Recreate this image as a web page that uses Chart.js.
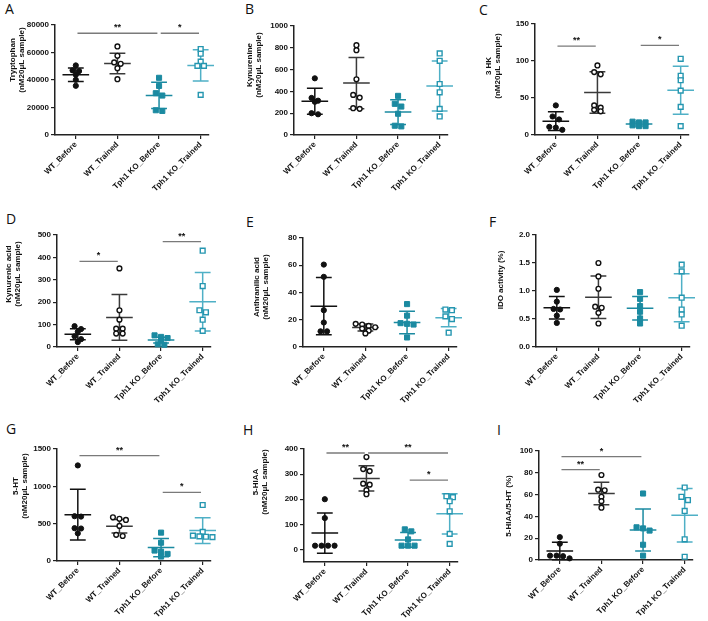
<!DOCTYPE html>
<html><head><meta charset="utf-8">
<script src="https://cdn.jsdelivr.net/npm/chart.js@4.4.1/dist/chart.umd.min.js"></script>
<style>
body{margin:0;background:#fff;width:708px;height:621px;position:relative;overflow:hidden}
canvas{position:absolute}
.lbl{position:absolute;font-family:"Open Sans",sans-serif;font-size:14px;line-height:1;color:#111}
</style></head><body>
<script>
const categories = ['WT_Before', 'WT_Trained', 'Tph1 KO_Before', 'Tph1 KO_Trained'];

// A — Tryptophan
const tryptophanValues = [[50600, 47000, 46500, 43800, 40100, 35800], [64400, 57600, 52800, 51800, 48600, 40600], [41600, 35700, 30400, 28700, 18000, 17500], [62500, 59100, 53300, 50300, 50300, 29200]];
const tryptophanMean = [43800, 52000, 28800, 50600];
const tryptophanSD = [4900, 7500, 9600, 11400];
const tryptophanTicks = [0, 20000, 40000, 60000, 80000];
const tryptophanSig = [[0, 2, 74000, '**'], [2, 3, 74000, '*']];
const tryptophanTitle = ['Tryptophan', '(nM20μL sample)'];

// B — Kynurenine
const kynurenineValues = [[520, 340, 315, 305, 200, 190], [824, 778, 511, 368, 343, 246, 240], [359, 286, 261, 195, 85, 79], [748, 681, 468, 392, 240, 170]];
const kynurenineMean = [310, 476, 210, 450];
const kynurenineSD = [119, 236, 113, 229];
const kynurenineTicks = [0, 200, 400, 600, 800, 1000];
const kynurenineSig = [];
const kynurenineTitle = ['Kynurenine', '(nM20μL sample)'];

// C — 3 HK
const hkValues = [[40, 25, 21, 11, 10, 7], [94, 85, 82, 40, 37, 34, 32], [18, 17, 17, 13, 12, 12], [103, 80, 74, 60, 38, 12]];
const hkMean = [18.7, 57.5, 14.8, 60.5];
const hkSD = [12.6, 28, 2.6, 32.5];
const hkTicks = [0, 50, 100, 150];
const hkSig = [[0, 1, 120, '**'], [2, 3, 121, '*']];
const hkTitle = ['3 HK', '(nM20μL sample)'];

// D — Kynurenic acid
const kynaValues = [[93, 80, 68, 48, 35, 22], [351, 164, 122, 82, 82, 60, 60], [52, 45, 40, 30, 12, 10], [430, 272, 164, 155, 122, 72]];
const kynaMean = [57, 132, 31, 202];
const kynaSD = [25, 102, 13, 131];
const kynaTicks = [0, 100, 200, 300, 400, 500];
const kynaSig = [[0, 1, 382, '*'], [2, 3, 470, '**']];
const kynaTitle = ['Kynurenic acid', '(nM20μL sample)'];

// E — Anthranilic acid
const anthValues = [[60.5, 51.5, 27, 18, 11.5, 11.5], [17, 16.5, 15.5, 14.5, 13.5, 12, 10], [31.5, 23, 17.5, 17, 16.5, 7], [27.5, 27, 22.5, 20.5, 10.5]];
const anthMean = [30, 14.3, 18, 21.5];
const anthSD = [21, 2.6, 8.2, 6.7];
const anthTicks = [0, 20, 40, 60, 80];
const anthSig = [];
const anthTitle = ['Anthranilic acid', '(nM20μL sample)'];

// F — IDO activity
const idoValues = [[1.02, 0.81, 0.68, 0.67, 0.56, 0.43], [1.50, 1.26, 1.04, 0.72, 0.70, 0.61, 0.42], [0.98, 0.86, 0.73, 0.63, 0.51, 0.42], [1.47, 1.35, 0.88, 0.67, 0.58, 0.38]];
const idoMean = [0.70, 0.89, 0.69, 0.88];
const idoSD = [0.20, 0.38, 0.21, 0.43];
const idoTicks = [0, 0.5, 1.0, 1.5, 2.0];
const idoSig = [];
const idoTitle = ['IDO activity (%)'];

// G — 5-HT
const htValues = [[1280, 600, 595, 440, 435, 370], [585, 565, 550, 470, 350, 335], [380, 245, 140, 125, 95, 60], [750, 390, 340, 330, 325, 320]];
const htMean = [620, 465, 180, 408];
const htSD = [340, 90, 123, 172];
const htTicks = [0, 500, 1000, 1500];
const htSig = [[0, 2, 1411, '**'], [2, 3, 920, '*']];
const htTitle = ['5-HT', '(nM20μL sample)'];

// H — 5-HIAA
const hiaaValues = [[200, 125, 15, 15, 15, 15], [368, 320, 312, 262, 258, 236, 220], [80, 72, 40, 15, 15, 15], [212, 208, 192, 152, 62, 22]];
const hiaaMean = [65, 283, 38, 142];
const hiaaSD = [80, 50, 29, 80];
const hiaaTicks = [0, 100, 200, 300, 400];
const hiaaSig = [[0, 1, 384, '**'], [1, 3, 384, '**'], [2, 3, 276, '*']];
const hiaaTitle = ['5-HIAA', '(nM20μL sample)'];

// I — 5-HIAA/5-HT
const ratioValues = [[21, 15, 4, 4, 3.5, 1.5], [78, 64.5, 64, 58, 54, 48], [61, 30, 29, 27, 14, 4], [66.5, 58, 55, 45, 19, 3]];
const ratioMean = [8.2, 61, 27.5, 41];
const ratioSD = [8, 10.4, 19.2, 24.6];
const ratioTicks = [0, 20, 40, 60, 80, 100];
const ratioSig = [[0, 2, 94.8, '*'], [0, 1, 83, '**']];
const ratioTitle = ['5-HIAA/5-HT (%)'];

const FONT = '"Liberation Sans", Arial, sans-serif';
const groupStyle = [
  {ps: 'circle', r: 2.6, bg: '#111', bd: '#111', bw: 1, line: '#111'},
  {ps: 'circle', r: 2.4, bg: '#fff', bd: '#111', bw: 1.4, line: '#3a3a3a'},
  {ps: 'rect', r: 3.6, bg: '#1b8aa1', bd: '#1b8aa1', bw: 1, line: '#1b8aa1'},
  {ps: 'rect', r: 3.4, bg: '#fff', bd: '#2596b0', bw: 1.4, line: '#4fb0c6'}
];

const panels = [
  {letter: 'A', lx: 5, ly: 2, vals: tryptophanValues, mean: tryptophanMean, sd: tryptophanSD, ticks: tryptophanTicks, sig: tryptophanSig, title: tryptophanTitle, min: 0, dec: 0, L: 55, T: 25, B: 135, tx: 13, ty: 60},
  {letter: 'B', lx: 245, ly: 2, vals: kynurenineValues, mean: kynurenineMean, sd: kynurenineSD, ticks: kynurenineTicks, sig: kynurenineSig, title: kynurenineTitle, min: 0, dec: 0, L: 294, T: 26, B: 135, tx: 250, ty: 65},
  {letter: 'C', lx: 479, ly: 3, vals: hkValues, mean: hkMean, sd: hkSD, ticks: hkTicks, sig: hkSig, title: hkTitle, min: 0, dec: 0, L: 535, T: 24, B: 135, tx: 489, ty: 66},
  {letter: 'D', lx: 6, ly: 212, vals: kynaValues, mean: kynaMean, sd: kynaSD, ticks: kynaTicks, sig: kynaSig, title: kynaTitle, min: 0, dec: 0, L: 57, T: 235, B: 347, tx: 9, ty: 274},
  {letter: 'E', lx: 246, ly: 215, vals: anthValues, mean: anthMean, sd: anthSD, ticks: anthTicks, sig: anthSig, title: anthTitle, min: 0, dec: 0, L: 303, T: 238, B: 347, tx: 257, ty: 287},
  {letter: 'F', lx: 489, ly: 215, vals: idoValues, mean: idoMean, sd: idoSD, ticks: idoTicks, sig: idoSig, title: idoTitle, min: 0, dec: 1, L: 536, T: 235, B: 347, tx: 501, ty: 280},
  {letter: 'G', lx: 6, ly: 422, vals: htValues, mean: htMean, sd: htSD, ticks: htTicks, sig: htSig, title: htTitle, min: 0, dec: 0, L: 57, T: 449, B: 561, tx: 16, ty: 486},
  {letter: 'H', lx: 243, ly: 423, vals: hiaaValues, mean: hiaaMean, sd: hiaaSD, ticks: hiaaTicks, sig: hiaaSig, title: hiaaTitle, min: -50, dec: 0, L: 304, T: 449, B: 562, tx: 256, ty: 482},
  {letter: 'I', lx: 497, ly: 423, vals: ratioValues, mean: ratioMean, sd: ratioSD, ticks: ratioTicks, sig: ratioSig, title: ratioTitle, min: 0, dec: 0, L: 539, T: 451, B: 560, tx: 509, ty: 506}
];

const XMIN = -0.5, XMAX = 3.2, PLOT_W = 154, YAX_W = 55, XAX_H = 72, PAD_T = 14, PAD_R = 10;
const CAT_PX = PLOT_W / (XMAX - XMIN);

function swarm(vals, i, pxPerUnit) {
  const sorted = vals.slice().sort((a, b) => b - a);
  const rows = [];
  let cur = null;
  for (const v of sorted) {
    if (cur && (cur[0] - v) * pxPerUnit < 3.5) cur.push(v);
    else { cur = [v]; rows.push(cur); }
  }
  const step = 6.5 / CAT_PX;
  const out = [];
  rows.forEach(r => r.forEach((v, j) => out.push({x: i + (j - (r.length - 1) / 2) * step, y: v})));
  return out;
}

function errData(i, m, s) {
  const w = 0.32, c = 0.19;
  return [
    {x: i - w, y: m}, {x: i + w, y: m}, {x: i, y: null},
    {x: i, y: m - s}, {x: i, y: m + s}, {x: i, y: null},
    {x: i - c, y: m + s}, {x: i + c, y: m + s}, {x: i, y: null},
    {x: i - c, y: m - s}, {x: i + c, y: m - s}
  ];
}

const annot = {
  id: 'annot',
  afterDatasetsDraw(chart, args, opts) {
    const ctx = chart.ctx, xs = chart.scales.x, ys = chart.scales.y;
    ctx.save();
    ctx.fillStyle = '#111';
    ctx.font = 'bold 9px ' + FONT;
    ctx.textAlign = 'center';
    ctx.textBaseline = 'bottom';
    for (const s of opts.sig) {
      const x = xs.getPixelForValue((s[0] + s[1]) / 2);
      const y = ys.getPixelForValue(s[2]);
      ctx.fillText(s[3], x, y - 1);
    }
    ctx.font = 'bold 8px ' + FONT;
    ctx.textBaseline = 'middle';
    ctx.translate(opts.tx, opts.ty);
    ctx.rotate(-Math.PI / 2);
    opts.title.forEach((t, k) => ctx.fillText(t, 0, k * 9));
    ctx.restore();
  }
};

for (const p of panels) {
  const lbl = document.createElement('div');
  lbl.className = 'lbl';
  lbl.textContent = p.letter;
  lbl.style.left = p.lx + 'px';
  lbl.style.top = p.ly + 'px';
  document.body.appendChild(lbl);

  const W = YAX_W + PLOT_W + PAD_R;
  const H = PAD_T + (p.B - p.T) + XAX_H;
  const cl = p.L - YAX_W, ct = p.T - PAD_T;
  const c = document.createElement('canvas');
  c.width = W; c.height = H;
  c.style.left = cl + 'px'; c.style.top = ct + 'px';
  c.style.width = W + 'px'; c.style.height = H + 'px';
  document.body.appendChild(c);

  const ymax = p.ticks[p.ticks.length - 1];
  const pxPerUnit = (p.B - p.T) / (ymax - p.min);
  const datasets = [];
  p.sig.forEach(s => datasets.push({
    data: [{x: s[0] + 0.04, y: s[2]}, {x: s[1] - 0.04, y: s[2]}],
    showLine: true, borderColor: '#7a7a7a', borderWidth: 1.3, pointRadius: 0, clip: false, order: 3
  }));
  p.vals.forEach((vals, i) => {
    const st = groupStyle[i];
    datasets.push({
      data: errData(i, p.mean[i], p.sd[i]), showLine: true, spanGaps: false,
      borderColor: st.line, borderWidth: 1.5, pointRadius: 0, clip: false, order: 2
    });
    datasets.push({
      data: swarm(vals, i, pxPerUnit), pointStyle: st.ps, pointRadius: st.r,
      backgroundColor: st.bg, borderColor: st.bd, pointBorderWidth: st.bw, borderWidth: st.bw, clip: false, order: 1
    });
  });

  new Chart(c, {
    type: 'scatter',
    data: {datasets},
    plugins: [annot],
    options: {
      responsive: false, animation: false, devicePixelRatio: 1, events: [],
      layout: {autoPadding: false, padding: {top: PAD_T, right: PAD_R, bottom: 0, left: 0}},
      plugins: {
        legend: {display: false}, tooltip: {enabled: false},
        annot: {sig: p.sig, title: p.title, tx: p.tx - cl, ty: p.ty - ct}
      },
      scales: {
        x: {
          type: 'linear', min: XMIN, max: XMAX,
          afterBuildTicks: s => { s.ticks = categories.map((_, k) => ({value: k})); },
          afterFit: s => { s.height = XAX_H; },
          ticks: {callback: v => categories[v], autoSkip: false, minRotation: 45, maxRotation: 45,
            font: {family: FONT, size: 8, weight: 'bold'}, color: '#111', padding: 1},
          grid: {display: true, drawOnChartArea: false, drawTicks: true, tickLength: 4, color: '#222', lineWidth: 1.2},
          border: {display: true, color: '#222', width: 1.5}
        },
        y: {
          type: 'linear', min: p.min, max: ymax,
          afterBuildTicks: s => { s.ticks = p.ticks.map(v => ({value: v})); },
          afterFit: s => { s.width = YAX_W; },
          ticks: {callback: v => v.toFixed(p.dec), font: {family: FONT, size: 8, weight: 'bold'}, color: '#111', padding: 2},
          grid: {display: true, drawOnChartArea: false, drawTicks: true, tickLength: 4, color: '#222', lineWidth: 1.2},
          border: {display: true, color: '#222', width: 1.5}
        }
      }
    }
  });
}
</script>
</body></html>
